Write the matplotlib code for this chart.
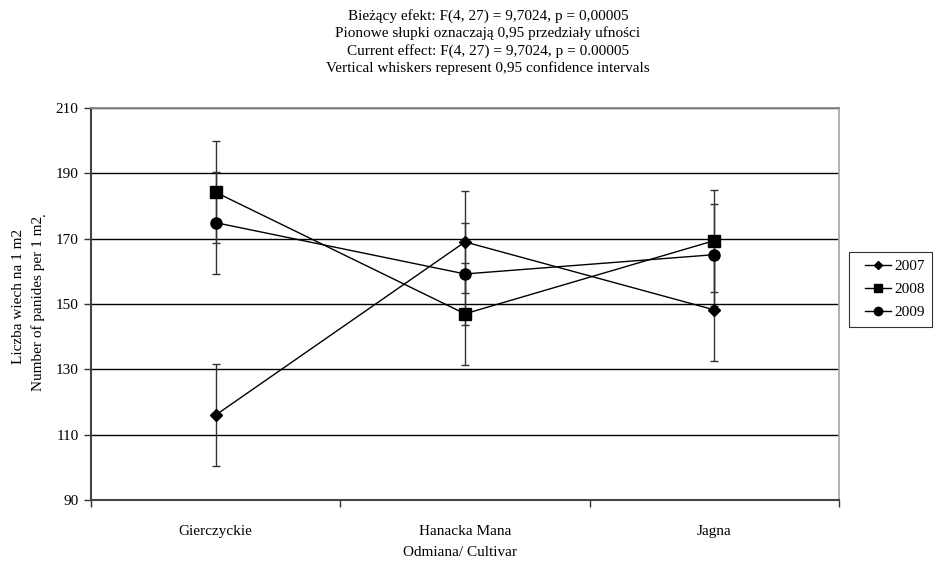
import matplotlib
matplotlib.use("Agg")
import matplotlib.pyplot as plt
from matplotlib.ticker import FixedLocator, NullFormatter
from matplotlib.legend_handler import HandlerLine2D

plt.rcParams['font.family'] = ['Liberation Serif', 'DejaVu Serif']

categories = ["Gierczyckie", "Hanacka Mana", "Jagna"]
years = ["2007", "2008", "2009"]
values_2007 = [116.0, 169.0, 148.2]
values_2008 = [184.2, 147.0, 169.4]
values_2009 = [174.9, 159.2, 165.1]
ci_2007 = [15.6, 15.6, 15.6]
ci_2008 = [15.6, 15.6, 15.6]
ci_2009 = [15.6, 15.6, 15.6]
yticks = [90, 110, 130, 150, 170, 190, 210]

title_lines = [
    "Bieżący efekt: F(4, 27) = 9,7024, p = 0,00005",
    "Pionowe słupki oznaczają 0,95 przedziały ufności",
    "Current effect: F(4, 27) = 9,7024, p = 0.00005",
    "Vertical whiskers represent 0,95 confidence intervals",
]

FS = 11
W, H = 935, 563
fig = plt.figure(figsize=(W / 100, H / 100), dpi=100)
ax = fig.add_axes([91 / W, 1 - 500 / H, (839 - 91) / W, (500 - 108) / H])

x = list(range(len(categories)))
series = [
    (values_2007, ci_2007, 'D', 5.8),
    (values_2008, ci_2008, 's', 8),
    (values_2009, ci_2009, 'o', 8),
]
handles = []
for (vals, ci, mk, ms), yr in zip(series, years):
    ax.errorbar(x, vals, yerr=ci, fmt='none', ecolor='#333333', elinewidth=1.0,
                capsize=2.7, capthick=1.0, zorder=3)
    h, = ax.plot(x, vals, color='black', lw=1.0, marker=mk, markersize=ms,
                 markerfacecolor='black', markeredgecolor='black', zorder=4, label=yr)
    handles.append(h)

ax.set_xlim(-0.5, len(categories) - 0.5)
ax.set_ylim(90, 210)
ax.set_yticks(yticks)
ax.yaxis.grid(True, color='black', lw=1.0)
ax.set_axisbelow(True)

ax.set_xticks(x)
ax.set_xticklabels(categories, fontsize=FS)
ax.tick_params(axis='x', which='major', length=0, pad=18)
ax.xaxis.set_minor_locator(FixedLocator([i - 0.5 for i in range(len(categories) + 1)]))
ax.xaxis.set_minor_formatter(NullFormatter())
ax.tick_params(axis='x', which='minor', length=5, width=1, color='#333333', direction='out')
ax.tick_params(axis='y', length=5, width=1, color='#333333', direction='out', labelsize=FS, pad=4)

for s in ['left', 'bottom']:
    ax.spines[s].set_color('#444444')
    ax.spines[s].set_linewidth(1.5)
ax.spines['top'].set_color('#888888')
ax.spines['top'].set_linewidth(1.3)
ax.spines['right'].set_color('#aaaaaa')
ax.spines['right'].set_linewidth(1.3)

for i, line in enumerate(title_lines):
    fig.text(488 / W, 1 - (16 + 17.3 * i) / H, line, ha='center', va='center', fontsize=FS)

fig.text(460 / W, 1 - 553 / H, "Odmiana/ Cultivar", ha='center', va='center', fontsize=FS)
fig.text(19 / W, 1 - 296 / H, "Liczba wiech na 1 m2", rotation=90, ha='center', va='center', fontsize=FS)
fig.text(38 / W, 1 - 303 / H, "Number of panides per 1 m2", rotation=90, ha='center', va='center', fontsize=FS)
fig.text(41 / W, 1 - 214 / H, ".", rotation=90, ha='center', va='center', fontsize=FS)

leg = fig.legend(handles=handles, labels=years, loc='upper left',
                 bbox_to_anchor=(849 / W, 1 - 252 / H), borderaxespad=0, fontsize=FS,
                 frameon=True, fancybox=False, edgecolor='black', handlelength=2.25,
                 borderpad=0.5, labelspacing=0.6, handletextpad=0.2, markerscale=0.75,
                 handler_map={h: HandlerLine2D(xpad=0.55) for h in handles})
leg.get_frame().set_linewidth(0.8)

fig.savefig("out.png", dpi=100)
